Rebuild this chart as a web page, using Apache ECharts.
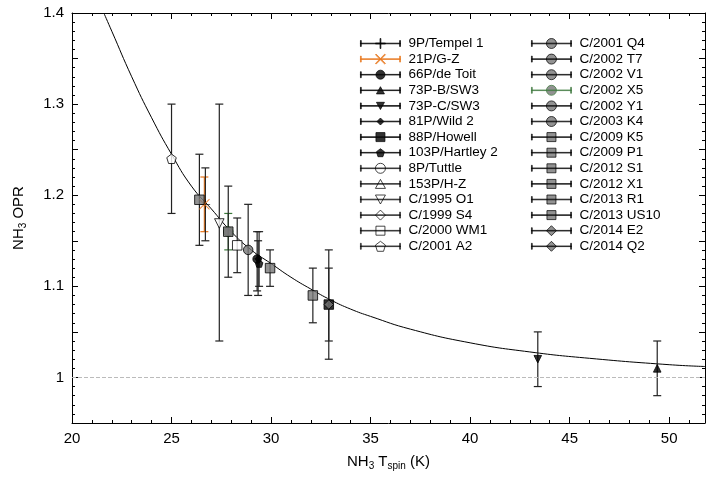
<!DOCTYPE html>
<html><head><meta charset="utf-8">
<script src="https://cdn.jsdelivr.net/npm/echarts@6/dist/echarts.min.js"></script>
<style>html,body{margin:0;padding:0;background:#fff}#c{width:708px;height:477px}</style>
</head><body><div id="c"></div>
<script>
// model curve
const curveX = [21.6, 22, 23, 24, 25, 26, 27, 28, 29, 30, 31, 32, 33, 34, 35, 37, 40, 43, 46, 50, 51.8]
const curveY = [1.40, 1.38, 1.33, 1.285, 1.245, 1.21, 1.185, 1.16, 1.14, 1.125, 1.11, 1.097, 1.085, 1.075, 1.067, 1.053, 1.038, 1.028, 1.021, 1.014, 1.012]

// comet names (legend order, two columns)
const names = ['9P/Tempel 1','21P/G-Z','66P/de Toit','73P-B/SW3','73P-C/SW3','81P/Wild 2','88P/Howell','103P/Hartley 2','8P/Tuttle','153P/H-Z','C/1995 O1','C/1999 S4','C/2000 WM1','C/2001 A2',
  'C/2001 Q4','C/2002 T7','C/2002 V1','C/2002 X5','C/2002 Y1','C/2003 K4','C/2009 K5','C/2009 P1','C/2012 S1','C/2012 X1','C/2013 R1','C/2013 US10','C/2014 E2','C/2014 Q2']

// measurements: comet, T_spin, OPR, lower, upper
const obsName = ['C/2001 A2','C/2012 X1','21P/G-Z','9P/Tempel 1','C/1995 O1','C/2002 X5','C/2013 R1','C/2000 WM1','C/2001 Q4','66P/de Toit','81P/Wild 2','103P/Hartley 2','C/2009 K5','C/2012 S1','88P/Howell','C/2014 E2','73P-C/SW3','73P-B/SW3']
const obsT   = [25.0, 26.4, 26.65, 26.7, 27.4, 27.85, 27.85, 28.3, 28.85, 29.3, 29.35, 29.4, 29.95, 32.1, 32.9, 32.9, 43.4, 49.4]
const obsOPR = [1.24, 1.195, 1.19, 1.19, 1.169, 1.16, 1.16, 1.145, 1.14, 1.13, 1.13, 1.125, 1.12, 1.09, 1.08, 1.08, 1.02, 1.01]
const obsLo  = [1.18, 1.145, 1.16, 1.15, 1.04, 1.14, 1.11, 1.115, 1.09, 1.095, 1.09, 1.10, 1.10, 1.06, 1.02, 1.04, 0.99, 0.98]
const obsHi  = [1.30, 1.245, 1.22, 1.23, 1.30, 1.18, 1.21, 1.175, 1.19, 1.16, 1.15, 1.16, 1.14, 1.12, 1.14, 1.12, 1.05, 1.04]

// marker shapes in a 10x10 box
const SH = {
  plus: 'M4.6,0H5.4V10H4.6ZM0,4.6H10V5.4H0Z',
  cross: 'M0,0.7L0.7,0L5,4.3L9.3,0L10,0.7L5.7,5L10,9.3L9.3,10L5,5.7L0.7,10L0,9.3L4.3,5Z',
  circle: 'M10,5A5,5,0,1,1,0,5A5,5,0,1,1,10,5Z',
  tri: 'M5,0.5L10,9.5L0,9.5Z',
  trid: 'M0,0.5L10,0.5L5,9.5Z',
  diamond: 'M5,0L10,5L5,10L0,5Z',
  rect: 'M0.5,0.5H9.5V9.5H0.5Z',
  pent: 'M5,0L10,3.8L8.1,10L1.9,10L0,3.8Z'
}
const small = { '81P/Wild 2': 0.7, '103P/Hartley 2': 0.8, '73P-B/SW3': 0.8, '73P-C/SW3': 0.8, '66P/de Toit': 0.9 }
const styleOf = {
  '9P/Tempel 1': ['plus', 1], '21P/G-Z': ['cross', 1], '66P/de Toit': ['circle', 1], '73P-B/SW3': ['tri', 1], '73P-C/SW3': ['trid', 1],
  '81P/Wild 2': ['diamond', 1], '88P/Howell': ['rect', 1], '103P/Hartley 2': ['pent', 1],
  '8P/Tuttle': ['circle', 0], '153P/H-Z': ['tri', 0], 'C/1995 O1': ['trid', 0], 'C/1999 S4': ['diamond', 0], 'C/2000 WM1': ['rect', 0], 'C/2001 A2': ['pent', 0]
}
const colorOf = { '21P/G-Z': '#e8761c', 'C/2002 X5': '#3a7a3a' }

// move a 10x10 path into a box at (ox,oy) scaled by s
const place = (p, ox, oy, s) => p.replace(/-?\d+(\.\d+)?,-?\d+(\.\d+)?/g, m => {
  const [a, b] = m.split(',').map(Number); return (ox + a * s).toFixed(2) + ',' + (oy + b * s).toFixed(2)
}).replace(/([HV])(-?\d+(\.\d+)?)/g, (m, c, v) => c + (Number(v) * s + (c === 'H' ? ox : oy)).toFixed(2))

const shapeOf = (n, k) => styleOf[n] || [k < 20 ? 'circle' : (k < 26 ? 'rect' : 'diamond'), 2]
function scaled(key, ox, oy, s) {
  if (key === 'circle') { const r = 5 * s, cx = ox + 5 * s, cy = oy + 5 * s
    return `M${cx + r},${cy}A${r},${r},0,1,1,${cx - r},${cy}A${r},${r},0,1,1,${cx + r},${cy}Z` }
  return place(SH[key], ox, oy, s)
}

const legendIcon = n => {
  const k = names.indexOf(n), st = shapeOf(n, k), s = small[n] || 1
  const bar = 'M0,4.7H40V5.3H0ZM0,2H0.8V8H0ZM39.2,2H40V8H39.2Z'
  return 'path://' + bar + scaled(st[0], 20 - 5 * s, 5 - 5 * s, s)
}

const series = names.map((n, k) => {
  const st = shapeOf(n, k), s = small[n] || 1
  const col = colorOf[n] || '#000'
  const data = []
  obsName.forEach((o, i) => { if (o === n) data.push([obsT[i], obsOPR[i]]) })
  const fill = st[1] === 1 ? col : (st[1] === 2 ? '#777' : '#fff')
  return {
    name: n, type: 'scatter', symbol: 'path://' + SH[st[0]], symbolSize: (st[0] === 'cross' ? 11 : 9.5) * s, z: 5, data: data,
    itemStyle: { color: fill, borderColor: col, borderWidth: st[0] === 'plus' || st[0] === 'cross' ? 0 : 1 }
  }
})

// error bars
series.push({
  type: 'custom', z: 3, silent: true,
  data: obsT.map((t, i) => [t, obsLo[i], obsHi[i], obsName[i] === '21P/G-Z' ? 1 : (obsName[i] === 'C/2002 X5' ? 2 : 0)]),
  renderItem: (params, api) => {
    const lo = api.coord([api.value(0), api.value(1)])
    const hi = api.coord([api.value(0), api.value(2)])
    const c = ['#222', '#e8761c', '#3a7a3a'][api.value(3)]
    const s = { stroke: c, lineWidth: 1.2 }
    return { type: 'group', children: [
      { type: 'line', shape: { x1: lo[0], y1: lo[1], x2: hi[0], y2: hi[1] }, style: s },
      { type: 'line', shape: { x1: lo[0] - 4, y1: lo[1], x2: lo[0] + 4, y2: lo[1] }, style: s },
      { type: 'line', shape: { x1: hi[0] - 4, y1: hi[1], x2: hi[0] + 4, y2: hi[1] }, style: s }
    ] }
  }
})

series.push({
  type: 'line', z: 2, silent: true, symbol: 'none', smooth: true,
  data: curveX.map((x, i) => [x, curveY[i]]),
  lineStyle: { color: '#000', width: 1 },
  markLine: { silent: true, symbol: 'none', label: { show: false },
    lineStyle: { color: '#bbb', type: 'dashed', width: 1 }, data: [{ yAxis: 1 }] }
})

const font = 'Liberation Sans, Arial, sans-serif'
const legendBase = {
  orient: 'vertical', top: 31, itemGap: 0.6, itemWidth: 40, itemHeight: 10, selectedMode: false,
  itemStyle: { borderWidth: 0.9 },
  textStyle: { fontSize: 13.5, lineHeight: 15, color: '#000', fontFamily: font, padding: [0, 0, 0, 3] }
}
const mkLegend = (list, left) => Object.assign({}, legendBase, { left: left, data: list.map(n => ({ name: n, icon: legendIcon(n) })) })

const axisCommon = {
  axisLine: { onZero: false, lineStyle: { color: '#000' } },
  axisTick: { inside: true, length: 6, lineStyle: { color: '#000' } },
  minorTick: { show: true, splitNumber: 5, length: 3, lineStyle: { color: '#000' } },
  splitLine: { show: false }
}
const rich = { a: { fontSize: 15, color: '#000' }, s: { fontSize: 10, color: '#000', verticalAlign: 'bottom', padding: [8, 0, 0, 0] } }

const myChart = echarts.init(document.getElementById('c'))
myChart.setOption({
  animation: false,
  textStyle: { fontFamily: font },
  grid: { left: 72, right: 3, top: 13, bottom: 54 },
  legend: [mkLegend(names.slice(0, 14), 355), mkLegend(names.slice(14), 526)],
  xAxis: [Object.assign({
    type: 'value', min: 20, max: 51.8, interval: 5,
    name: '{a|NH}{s|3}{a| T}{s|spin}{a| (K)}', nameLocation: 'middle', nameGap: 30,
    nameTextStyle: { rich: rich },
    axisLabel: { fontSize: 15, color: '#000', margin: 8, showMaxLabel: false }
  }, axisCommon), Object.assign({
    type: 'value', position: 'top', min: 20, max: 51.8, interval: 5, axisLabel: { show: false }
  }, axisCommon)],
  yAxis: [Object.assign({
    type: 'value', min: 0.95, max: 1.4, interval: 0.05,
    name: '{a|NH}{s|3}{a| OPR}', nameLocation: 'middle', nameGap: 44,
    nameTextStyle: { rich: rich },
    axisLabel: { fontSize: 15, color: '#000', formatter: v => { const r = Math.round(v * 100); return r % 10 === 0 ? String(r / 100) : '' } }
  }, axisCommon), Object.assign({
    type: 'value', position: 'right', min: 0.95, max: 1.4, interval: 0.05, axisLabel: { show: false }
  }, axisCommon)],
  series: series
}, true)
window.onresize = myChart.resize
</script></body></html>
